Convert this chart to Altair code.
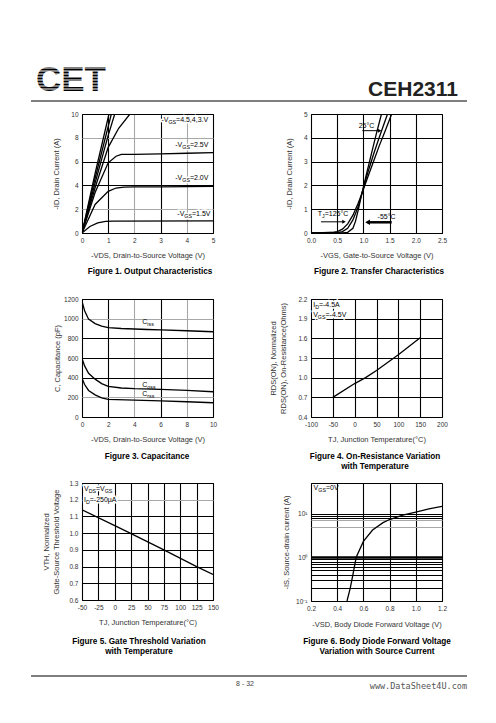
import altair as alt
import pandas as pd

FONT = "'Liberation Sans', Arial, sans-serif"
MONO = "'DejaVu Sans Mono', monospace"
GRAY = "#a8a8a8"

# ---------------- Figure 1: output characteristics ----------------
F1_45_X = [0, 0.5, 1.03]
F1_45_Y = [0, 5.0, 10.0]
F1_40_X = [0, 0.5, 1.12]
F1_40_Y = [0, 4.6, 10.0]
F1_35_X = [0, 0.5, 1.0, 1.25]
F1_35_Y = [0, 4.2, 8.2, 10.0]
F1_30_X = [0, 0.5, 1.0, 1.4, 1.83]
F1_30_Y = [0, 3.8, 7.2, 8.8, 10.0]
F1_25_X = [0, 0.5, 1.0, 1.3, 1.5, 2, 3, 4, 5]
F1_25_Y = [0, 3.4, 5.9, 6.45, 6.6, 6.6, 6.65, 6.7, 6.75]
F1_20_X = [0, 0.5, 1.0, 1.3, 1.6, 2, 3, 4, 5]
F1_20_Y = [0, 2.4, 3.5, 3.78, 3.85, 3.87, 3.88, 3.9, 3.92]
F1_15_X = [0, 0.3, 0.6, 0.9, 1.2, 5]
F1_15_Y = [0, 0.55, 0.85, 0.98, 1.0, 1.02]

# ---------------- Figure 2: transfer characteristics ----------------
F2_125_X = [0, 0.4, 0.5, 0.6, 0.7, 0.8, 0.9, 0.97, 1.1, 1.2, 1.3, 1.4, 1.54]
F2_125_Y = [0, 0.02, 0.06, 0.16, 0.38, 0.75, 1.25, 1.65, 2.45, 3.05, 3.65, 4.2, 5.0]
F2_25_X = [0, 0.5, 0.6, 0.7, 0.8, 0.9, 0.97, 1.1, 1.2, 1.3, 1.46]
F2_25_Y = [0, 0.02, 0.06, 0.2, 0.55, 1.1, 1.65, 2.65, 3.35, 4.0, 5.0]
F2_M55_X = [0, 0.6, 0.7, 0.8, 0.85, 0.9, 0.97, 1.05, 1.15, 1.25, 1.345]
F2_M55_Y = [0, 0.0, 0.03, 0.2, 0.5, 0.95, 1.65, 2.4, 3.3, 4.2, 5.0]

# ---------------- Figure 3: capacitance ----------------
F3_CISS_X = [0, 0.2, 0.5, 1, 1.5, 2, 3, 4, 5, 6, 8, 10]
F3_CISS_Y = [1175, 1080, 995, 950, 925, 908, 900, 895, 890, 885, 877, 867]
F3_COSS_X = [0, 0.2, 0.5, 1, 1.5, 2, 3, 4, 6, 8, 10]
F3_COSS_Y = [595, 520, 445, 385, 340, 312, 295, 288, 280, 270, 257]
F3_CRSS_X = [0, 0.2, 0.5, 1, 1.5, 2, 4, 6, 8, 10]
F3_CRSS_Y = [395, 330, 270, 225, 195, 180, 172, 165, 155, 145]

# ---------------- Figure 4: on-resistance vs temperature ----------------
F4_T = [-50, 0, 25, 50, 100, 150]
F4_R = [0.70, 0.91, 1.0, 1.11, 1.35, 1.61]

# ---------------- Figure 5: gate threshold vs temperature ----------------
F5_T = [-50, 0, 25, 75, 125, 150]
F5_V = [1.14, 1.045, 0.997, 0.9, 0.8, 0.753]

# ---------------- Figure 6: body diode forward voltage ----------------
F6_V = [0.475, 0.5, 0.52, 0.545, 0.6, 0.67, 0.75, 0.8, 0.9, 1.0, 1.1, 1.2]
F6_I = [0.1, 0.2, 0.4, 1.0, 2.3, 4.2, 6.2, 7.3, 9.2, 10.8, 12.8, 14.6]

ONE = pd.DataFrame({"k": [0]})
W = 131
PLAIN = "'' + datum.value"

CW = {' ': .278, '-': .333, '=': .584, ',': .278, '.': .278, '°': .4, 'µ': .576,
      'A': .667, 'C': .722, 'D': .722, 'G': .778, 'I': .278, 'J': .5, 'S': .667,
      'T': .611, 'V': .667, 'i': .222, 's': .5, 'o': .556, 'r': .333}


def tw(s, fs):
    return sum(CW.get(c, .556) for c in s) * fs


def curves(pairs):
    rows = []
    for name, xs, ys in pairs:
        for x, y in zip(xs, ys):
            rows.append({"s": name, "x": x, "y": y})
    return pd.DataFrame(rows)


def cond(vals, hit, other):
    if not vals:
        return other
    test = " || ".join(f"abs(datum.value - ({v})) < 1e-6" for v in vals)
    return {"condition": {"test": test, "value": hit}, "value": other}


def xaxis(values, title, fmt=None, gray=(), ty=22, lexpr=None):
    kw = dict(values=values, title=title, grid=True, gridColor=cond(gray, GRAY, "black"), gridWidth=1.1,
              titleY=ty, titleBaseline="middle", labelPadding=4, labelFlush=False, labelOverlap=False)
    if fmt:
        kw["format"] = fmt
    if lexpr:
        kw["labelExpr"] = lexpr
    return alt.Axis(**kw)


def yaxis(values, title, h, tx, fmt=None, gray=(), lexpr=None, thick=()):
    kw = dict(values=values, title=title, grid=True, gridColor=cond(gray, GRAY, "black"),
              gridWidth=cond(thick, 2.6, 1.1),
              titleX=tx, titleY=h / 2, titleBaseline="middle", titleLineHeight=10.5,
              labelPadding=4, labelFlush=False, labelOverlap=False)
    if fmt:
        kw["format"] = fmt
    if lexpr:
        kw["labelExpr"] = lexpr
    return alt.Axis(**kw)


class Fig:
    """Holds the shared axes of one panel so every layer carries identical axis definitions."""

    def __init__(self, xax, yax, xscale, yscale):
        self.xax, self.yax, self.xs, self.ys = xax, yax, xscale, yscale
        self.layers = []

    def X(self, v):
        return alt.X(datum=v, axis=self.xax, scale=self.xs)

    def Y(self, v):
        return alt.Y(datum=v, axis=self.yax, scale=self.ys)

    def lines(self, df, width=1.3):
        self.layers.append(alt.Chart(df).mark_line(color="black", strokeWidth=width, clip=True).encode(
            x=alt.X("x:Q", scale=self.xs, axis=self.xax),
            y=alt.Y("y:Q", scale=self.ys, axis=self.yax),
            detail="s:N"))

    def text(self, parts, x, y, size=7.0, sub=5.3, halo=False):
        halos, texts = [], []
        dx = 0.0
        for s, is_sub in parts:
            fs = sub if is_sub else size
            dy = 2 if is_sub else 0
            if halo:
                halos.append(alt.Chart(ONE).mark_text(
                    text=s, fontSize=fs, font=FONT, align="left", baseline="middle", dx=dx, dy=dy,
                    color="white", stroke="white", strokeWidth=3).encode(x=self.X(x), y=self.Y(y)))
            texts.append(alt.Chart(ONE).mark_text(
                text=s, fontSize=fs, font=FONT, align="left", baseline="middle", dx=dx, dy=dy,
                color="black").encode(x=self.X(x), y=self.Y(y)))
            dx += tw(s, fs)
        self.layers += halos + texts

    def arrow(self, x1, x2, y, width=1.0, size=16):
        shape = "triangle-right" if x2 > x1 else "triangle-left"
        self.layers.append(alt.Chart(ONE).mark_rule(color="black", strokeWidth=width).encode(
            x=self.X(x1), x2=alt.datum(x2), y=self.Y(y)))
        self.layers.append(alt.Chart(ONE).mark_point(
            shape=shape, filled=True, size=size, color="black", opacity=1).encode(
            x=self.X(x2), y=self.Y(y)))

    def add(self, *ls):
        self.layers += list(ls)

    def chart(self, h):
        return alt.layer(*self.layers).properties(width=W, height=h)


def ptext(text, x, y, size, font=FONT, weight="normal", align="center", baseline="middle",
          color="black", lh=None):
    kw = dict(text=text, fontSize=size, font=font, fontWeight=weight, align=align,
              baseline=baseline, color=color)
    if lh:
        kw["lineHeight"] = lh
    return alt.Chart(ONE).mark_text(**kw).encode(x=alt.value(x), y=alt.value(y))


def prule(x1, x2, y, color="black", width=1.2):
    return alt.Chart(ONE).mark_rule(color=color, strokeWidth=width).encode(
        x=alt.value(x1), x2=alt.value(x2), y=alt.value(y))


def caption(text, x, y):
    return ptext(text, x, y, 8.2, weight="bold", lh=10)


# ---------------- figure 1 (with page header) ----------------
H1 = 119
fig = Fig(xaxis([0, 1, 2, 3, 4, 5], "-VDS, Drain-to-Source Voltage (V)", gray=(2, 4)),
          yaxis([0, 2, 4, 6, 8, 10], "-ID, Drain Current (A)", H1, -26, gray=(2, 8)),
          alt.Scale(domain=[0, 5]), alt.Scale(domain=[0, 10]))
fig.lines(curves([("45", F1_45_X, F1_45_Y), ("40", F1_40_X, F1_40_Y), ("35", F1_35_X, F1_35_Y),
                  ("30", F1_30_X, F1_30_Y), ("25", F1_25_X, F1_25_Y), ("20", F1_20_X, F1_20_Y),
                  ("15", F1_15_X, F1_15_Y)]))
fig.text([("-V", 0), ("GS", 1), ("=4.5,4,3.V", 0)], 3.03, 9.5, halo=True)
fig.text([("-V", 0), ("GS", 1), ("=2.5V", 0)], 3.56, 7.4, halo=True)
fig.text([("-V", 0), ("GS", 1), ("=2.0V", 0)], 3.56, 4.65, halo=True)
fig.text([("-V", 0), ("GS", 1), ("=1.5V", 0)], 3.64, 1.62, halo=True)
fig.add(caption("Figure 1. Output Characteristics", 68, 158))
# page header (logo, part number, rule)
fig.add(prule(-51, -40, -57, color="white", width=1))
fig.add(ptext("CET", -46, -23, 35, weight="bold", align="left", baseline="alphabetic"))
for off in range(-49, -22, 3):
    fig.add(prule(-50, 30, off, color="white", width=1.1))
fig.add(ptext("CEH2311", 376, -18, 21, weight="bold", align="right", baseline="alphabetic", color="#222"))
fig.add(prule(-51, 385, -13, width=1.2))
f1 = fig.chart(H1)

# ---------------- figure 2 ----------------
H2 = 119
fig = Fig(xaxis([0, 0.5, 1, 1.5, 2, 2.5], "-VGS, Gate-to-Source Voltage (V)", fmt=".1f"),
          yaxis([0, 1, 2, 3, 4, 5], "-ID, Drain Current (A)", H2, -22),
          alt.Scale(domain=[0, 2.5]), alt.Scale(domain=[0, 5]))
fig.lines(curves([("125", F2_125_X, F2_125_Y), ("25", F2_25_X, F2_25_Y), ("-55", F2_M55_X, F2_M55_Y)]))
fig.text([("25°C", 0)], 0.91, 4.5)
fig.arrow(0.98, 1.31, 4.3)
fig.text([("T", 0), ("J", 1), ("=125°C", 0)], 0.13, 0.81)
fig.arrow(0.19, 0.63, 0.47)
fig.text([("-55°C", 0)], 1.27, 0.66)
fig.arrow(1.54, 1.08, 0.45, width=2.5, size=30)
fig.add(caption("Figure 2. Transfer Characteristics", 68, 158))
f2 = fig.chart(H2)

# ---------------- figure 3 ----------------
H3 = 118
fig = Fig(xaxis([0, 2, 4, 6, 8, 10], "-VDS, Drain-to-Source Voltage (V)", gray=(4, 8)),
          yaxis([0, 200, 400, 600, 800, 1000, 1200], "C, Capacitance (pF)", H3, -25, fmt="d",
                gray=(200, 1000)),
          alt.Scale(domain=[0, 10]), alt.Scale(domain=[0, 1200]))
fig.lines(curves([("ciss", F3_CISS_X, F3_CISS_Y), ("coss", F3_COSS_X, F3_COSS_Y),
                  ("crss", F3_CRSS_X, F3_CRSS_Y)]))
fig.text([("C", 0), ("iss", 1)], 4.6, 969)
fig.text([("C", 0), ("oss", 1)], 4.6, 330)
fig.text([("C", 0), ("rss", 1)], 4.6, 231)
fig.add(caption("Figure 3. Capacitance", 65, 158))
f3 = fig.chart(H3)

# ---------------- figure 4 ----------------
H4 = 118
fig = Fig(xaxis([-100, -50, 0, 50, 100, 150, 200], "TJ, Junction Temperature(°C)", lexpr=PLAIN),
          yaxis([0.4, 0.7, 1.0, 1.3, 1.6, 1.9, 2.2],
                ["RDS(ON), Normalized", "RDS(ON), On-Resistance(Ohms)"], H4, -38, fmt=".1f"),
          alt.Scale(domain=[-100, 200]), alt.Scale(domain=[0.4, 2.2]))
fig.lines(curves([("r", F4_T, F4_R)]))
fig.text([("I", 0), ("D", 1), ("=-4.5A", 0)], -95, 2.11, halo=True)
fig.text([("V", 0), ("GS", 1), ("=-4.5V", 0)], -95, 1.96, halo=True)
fig.add(caption(["Figure 4. On-Resistance Variation", "with Temperature"], 64, 158))
f4 = fig.chart(H4)

# ---------------- figure 5 (with page footer) ----------------
H5 = 117
fig = Fig(xaxis([-50, -25, 0, 25, 50, 75, 100, 125, 150], "TJ, Junction Temperature(°C)", lexpr=PLAIN),
          yaxis([0.6, 0.7, 0.8, 0.9, 1.0, 1.1, 1.2, 1.3],
                ["VTH, Normalized", "Gate-Source Threshold Voltage"], H5, -36, fmt=".1f", gray=(1.2,)),
          alt.Scale(domain=[-50, 150]), alt.Scale(domain=[0.6, 1.3]))
fig.lines(curves([("v", F5_T, F5_V)]))
fig.text([("V", 0), ("DS", 1), ("=V", 0), ("GS", 1)], -47, 1.265, halo=True)
fig.text([("I", 0), ("D", 1), ("=-250µA", 0)], -47, 1.2, halo=True)
fig.add(caption(["Figure 5. Gate Threshold Variation", "with Temperature"], 57, 159))
fig.add(prule(-51, 385, 193, width=1.2))
fig.add(ptext("8 - 32", 163, 201, 7, color="#444"))
fig.add(ptext("www.DataSheet4U.com", 385, 203, 8.5, font=MONO, align="right", color="#555"))
f5 = fig.chart(H5)

# ---------------- figure 6 ----------------
H6 = 118
y6_vals = [0.1, 0.2, 0.3, 0.4, 0.5, 0.6, 0.7, 0.8, 0.9, 1, 5, 7, 8, 9, 10]
y6_expr = ("datum.value == 10 ? '10\u00b9' : datum.value == 1 ? '10\u2070' : "
           "datum.value == 0.1 ? '10\u207b\u00b9' : ''")
fig = Fig(xaxis([0.2, 0.4, 0.6, 0.8, 1.0, 1.2], "-VSD, Body Diode Forward Voltage (V)", fmt=".1f", ty=23),
          yaxis(y6_vals, "-IS, Source-drain current (A)", H6, -25, gray=(5, 7), lexpr=y6_expr, thick=(1,)),
          alt.Scale(domain=[0.2, 1.2]), alt.Scale(type="log", domain=[0.1, 50]))
fig.lines(curves([("i", F6_V, F6_I)]))
fig.text([("V", 0), ("GS", 1), ("=0V", 0)], 0.22, 38)
fig.add(caption(["Figure 6. Body Diode Forward Voltage", "Variation with Source Current"], 66, 159))
f6 = fig.chart(H6)

chart = alt.concat(f1, f2, f3, f4, f5, f6, columns=2, spacing={"row": 66, "column": 98},
                   bounds="flush").properties(
    padding={"left": 21, "top": 48, "right": 10, "bottom": 10}
).configure_view(stroke="black", strokeWidth=1).configure_axis(
    labelFont=FONT, labelFontSize=6.5, labelColor="#333", titleFont=FONT, titleFontSize=7.5,
    titleFontWeight="normal", titleColor="#333", domain=False, ticks=False
)

chart.save("out.html", embed_options={"renderer": "svg", "actions": False})
